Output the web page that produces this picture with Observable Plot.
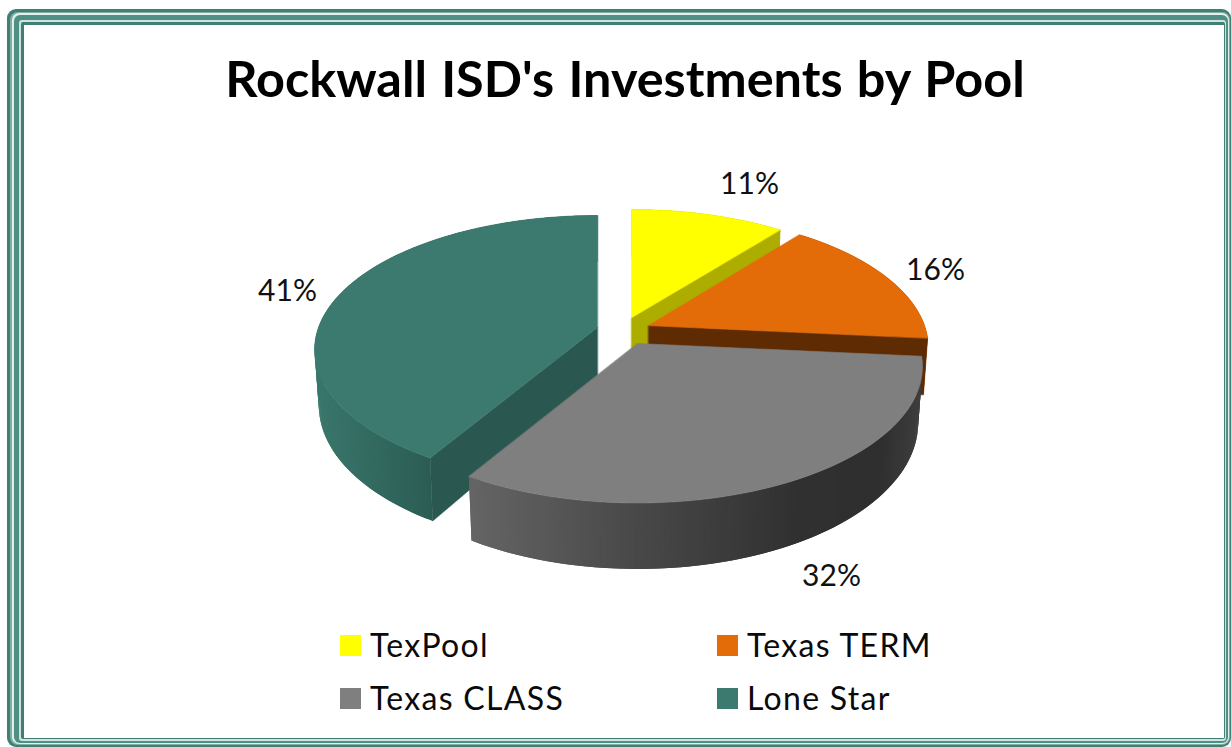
<!DOCTYPE html>
<html>
<head>
<meta charset="utf-8">
<script src="https://cdn.jsdelivr.net/npm/d3@7"></script>
<script src="https://cdn.jsdelivr.net/npm/@observablehq/plot@0.6"></script>
<style>
html,body{margin:0;padding:0;background:#fff;overflow:hidden}
#page{position:relative;width:1231px;height:747px;overflow:hidden;font-family:Lato,sans-serif;color:#0a0a0a}
.band{position:absolute}
#title{position:absolute;left:0;width:1250px;top:45px;text-align:center;font-weight:700;font-size:50.4px;line-height:66px;color:#000;word-spacing:2px}
#chart{position:absolute;left:0;top:130px}
.lg{position:absolute;font-size:32px;line-height:36px;letter-spacing:1.3px;white-space:nowrap}
.sw{position:absolute;width:21px;height:21px}
</style>
</head>
<body>
<div id="page">
  <div id="frame"></div>
  <div id="title">Rockwall ISD's Investments by Pool</div>
  <div id="chart"></div>
  <div id="legend"></div>
</div>
<script>
// ---- data ----
const pools = ["TexPool", "Texas TERM", "Texas CLASS", "Lone Star"];
const shares = [10.6, 15.9, 32.1, 41.4];
const topColors = ["#FFFF00", "#E36C09", "#7F7F7F", "#3C7A6F"];
const faceColors = ["#ADAD00", "#5E2B03", "#555555", "#2A574F"];

// ---- layout of the drawing ----
const apexX = [631, 648, 637, 597];
const apexY = [317, 325, 343, 327];
const radiusX = [272, 276, 281, 279];
const radiusY = [126, 130.6, 133, 130.6];
const depths = [56, 56, 55, 54];
const labelX = [749, 935, 831, 287];
const labelY = [184, 270, 576, 291];
const legendCol = [340, 717];
const legendRow = [635, 688];
const k = 0.166, squeeze = 0.985, step = 1;
const TOP = 130, H = 480;

const wallShade = [
  d3.scaleLinear().domain([0, 1]).range(["#ADAD00", "#ADAD00"]),
  d3.scaleLinear().domain([800, 930]).range(["#7a3a05", "#a8530a"]).clamp(true),
  d3.scaleLinear().domain([471, 640, 800, 880, 925]).range(["#646464", "#484848", "#303030", "#2f2f2f", "#3f3f3f"]).clamp(true),
  d3.scaleLinear().domain([314, 430]).range(["#3a776c", "#2b5c53"]).clamp(true)
];

function pt(i, deg, r) {
  const a = deg * Math.PI / 180, u = Math.sin(a) * r, v = -Math.cos(a) * r, w = 1 / (1 - k * v);
  return {x: apexX[i] + radiusX[i] * u * w, y: apexY[i] + radiusY[i] * v * w, w};
}
function low(i, p) {
  return {x: apexX[i] + (p.x - apexX[i]) * squeeze, y: p.y + depths[i] * p.w};
}

const rows = [];
let seq = 0;
function poly(pts, fill, sw) {
  const id = seq++;
  for (const p of pts) rows.push({id, x: p.x, y: p.y, fill, sw});
}
const ends = d3.cumsum(shares).map(d => d * 3.6);
const starts = [0, ...ends.slice(0, -1)];

// paint order: back slices first, the front grey slice last
[0, 1, 3, 2].forEach(i => {
  const a0 = starts[i], a1 = ends[i];
  // outer wall strips, each overlapping the next so no seams show
  for (let a = a0; a < a1 - 1e-6; a += step) {
    const b = Math.min(a + step * 2, a1), m = Math.min(a + step, a1);
    const p = pt(i, a, 1), q = pt(i, b, 1), n = pt(i, m, 1);
    poly([p, q, low(i, q), low(i, p)], d3.color(wallShade[i]((p.x + n.x) / 2)).formatHex(), 0);
  }
  // radial faces
  const c = pt(i, 0, 0);
  if (i === 0 || i === 1) {
    const e = pt(i, a1, 1);
    poly([c, e, low(i, e), low(i, c)], faceColors[i], 0.6);
  }
  if (i === 3) {
    const e = pt(i, a0, 1);
    poly([c, e, low(i, e), low(i, c)], faceColors[i], 0.6);
  }
  // top
  const top = [c];
  for (let a = a0; a < a1; a += 1) top.push(pt(i, a, 1));
  top.push(pt(i, a1, 1));
  poly(top, topColors[i], 0.6);
});

const labels = pools.map((name, i) => ({name, x: labelX[i], y: labelY[i], text: Math.round(shares[i]) + "%"}));

const svg = Plot.plot({
  width: 1231,
  height: H,
  margin: 0,
  x: {domain: [0, 1231], range: [0, 1231], axis: null},
  y: {domain: [TOP, TOP + H], range: [0, H], axis: null},
  color: {type: "identity"},
  style: {background: "transparent", overflow: "visible"},
  marks: [
    Plot.line(rows, {x: "x", y: "y", z: "id", fill: "fill", stroke: "fill", strokeWidth: "sw", curve: "linear-closed"}),
    Plot.text(labels, {x: "x", y: "y", text: "text", fontSize: 30, fontFamily: "Lato, sans-serif", fill: "#111111", textAnchor: "middle", lineAnchor: "middle"})
  ]
});
document.getElementById("chart").appendChild(svg);

// legend
const legend = document.getElementById("legend");
pools.forEach((name, i) => {
  const cx = legendCol[i % 2], cy = legendRow[Math.floor(i / 2)];
  const s = document.createElement("div");
  s.className = "sw";
  s.style.cssText = `left:${cx}px;top:${cy}px;background:${topColors[i]}`;
  const t = document.createElement("div");
  t.className = "lg";
  t.style.left = (cx + 30) + "px";
  t.style.top = (cy - 8) + "px";
  t.textContent = name;
  legend.append(s, t);
});

// decorative frame: nested bands
const bands = [
  [7, 9, 0, 0, "#3f7f74", 9],
  [10, 12, 1, 2, "#7fb0a6", 8],
  [12, 13, 2, 3, "#e4eeec", 7],
  [14, 15, 3, 4, "#4f8f84", 6],
  [19, 20, 5, 6, "#cfe3df", 3],
  [21, 22, 6, 8, "#3f7f74", 2],
  [24, 25, 7, 9, "#ffffff", 0]
];
const frame = document.getElementById("frame");
bands.forEach(([l, t, r, b, c, rad]) => {
  const d = document.createElement("div");
  d.className = "band";
  d.style.cssText = `left:${l}px;top:${t}px;right:${r}px;bottom:${b}px;background:${c};border-radius:${rad}px`;
  frame.appendChild(d);
});
</script>
</body>
</html>
